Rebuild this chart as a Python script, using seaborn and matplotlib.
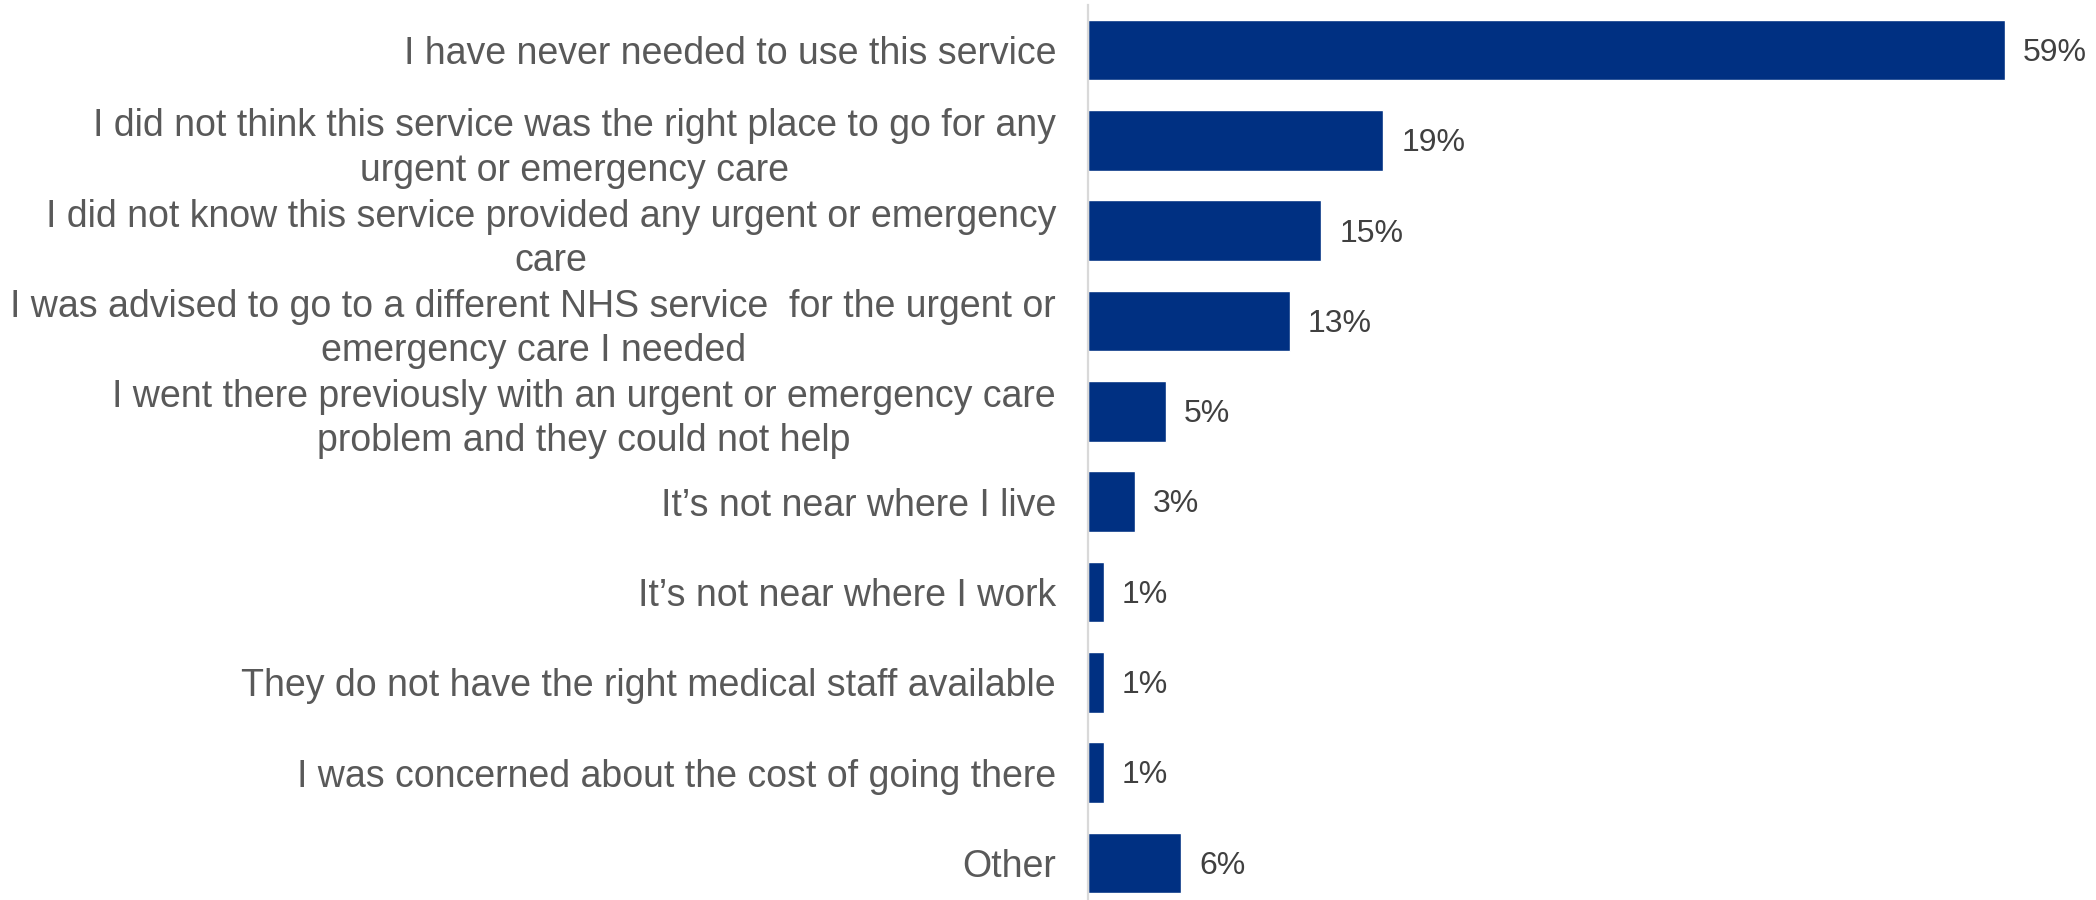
import matplotlib
matplotlib.use("Agg")
import matplotlib.pyplot as plt
import seaborn as sns
import pandas as pd

categories = [
    "I have never needed to use this service",
    "I did not think this service was the right place to go for any\nurgent or emergency care",
    "I did not know this service provided any urgent or emergency\ncare",
    "I was advised to go to a different NHS service  for the urgent or\nemergency care I needed",
    "I went there previously with an urgent or emergency care\nproblem and they could not help",
    "It\u2019s not near where I live",
    "It\u2019s not near where I work",
    "They do not have the right medical staff available",
    "I was concerned about the cost of going there",
    "Other",
]
values = [59, 19, 15, 13, 5, 3, 1, 1, 1, 6]
value_labels = ["59%", "19%", "15%", "13%", "5%", "3%", "1%", "1%", "1%", "6%"]

sns.set_theme(style="white")
plt.rcParams["font.family"] = ["Liberation Sans", "DejaVu Sans"]

df = pd.DataFrame({"reason": categories, "share": values})

fig = plt.figure(figsize=(20.96, 9.0), dpi=100)
ax = fig.add_axes([1088 / 2096, -8 / 900, 1008 / 2096, 903 / 900])

sns.barplot(data=df, y="reason", x="share", orient="h", color="#003082",
            saturation=1, width=0.67, ax=ax)

ax.set_xlim(0, 64.85)
ax.set_ylim(9.5, -0.5)
ax.set_xlabel("")
ax.set_ylabel("")
ax.set_xticks([])

ax.set_yticks(range(len(categories)))
ax.set_yticklabels(categories, fontsize=27, color="#595959",
                   multialignment="center", linespacing=1.29)
ax.tick_params(axis="y", length=0, pad=23)

for side in ["top", "right", "bottom"]:
    ax.spines[side].set_visible(False)
ax.spines["left"].set_color("#d9d9d9")
ax.spines["left"].set_linewidth(1.6)

texts = ax.bar_label(ax.containers[0], labels=value_labels, padding=13,
                     fontsize=23, color="#404040")
for t in texts:
    t.xyann = (13, -2)

fig.savefig("out.png", dpi=100)
